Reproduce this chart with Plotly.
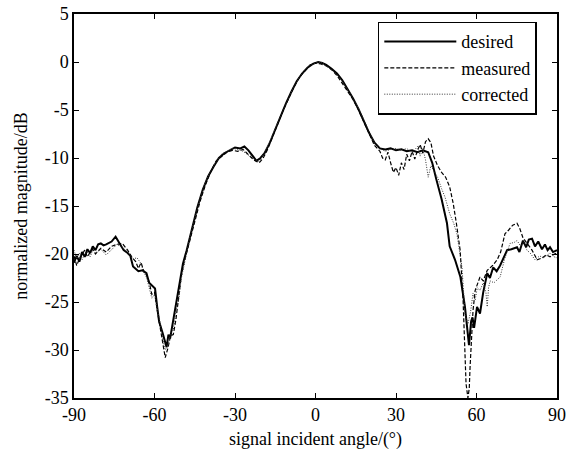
import plotly.graph_objects as go

# ---- data ----
desired_x = [-90, -89, -88, -87, -86, -85, -84, -83, -82, -81, -80, -79, -78, -76, -74.5, -73, -71.5, -70, -69, -68,
             -67, -66, -64.5, -63, -62, -61, -59.8, -59.0, -58.3, -57, -55.5, -54.8, -54.2, -53.5, -52, -50.5, -49.4,
             -48, -46, -44, -42, -40, -38, -36, -34, -32, -30, -28, -26.5, -25, -23.5, -22, -20.5, -19, -17, -15,
             -13, -11, -9, -7, -5, -3, -1, 1, 2.5, 4, 6, 8, 10, 12, 14, 16, 18, 20, 22, 24, 26, 28, 30, 32, 34, 36,
             38, 40, 42, 43.5, 45, 47, 49, 50, 52, 54, 55.7, 56.5, 57.2, 58.0, 58.5, 59.1, 60.2, 61.3, 62.5, 64, 65,
             66.2, 67.5, 68.8, 70, 71.4, 73, 75.1, 76, 77.3, 78.5, 79.5, 80.7, 81.8, 83, 84.4, 85.5, 86.5, 87.4,
             88.5, 90]
desired_y = [-20.9, -20.2, -20.8, -19.8, -20.3, -19.5, -19.9, -19.2, -19.6, -19.0, -18.9, -19.1, -19.0, -18.7, -18.2,
             -18.9, -19.6, -19.9, -20.2, -21.3, -21.6, -21.8, -21.7, -22.0, -23.0, -23.3, -23.6, -25.5, -27.0, -28.2,
             -29.7, -28.4, -28.8, -27.7, -25.3, -22.8, -21.0, -19.6, -17.4, -15.1, -13.3, -11.9, -10.9, -10.0, -9.5,
             -9.2, -8.9, -9.0, -8.8, -9.2, -9.8, -10.3, -10.0, -9.5, -8.4, -7.0, -5.5, -4.3, -3.1, -2.0, -1.2, -0.6,
             -0.2, 0.0, -0.1, -0.3, -0.7, -1.2, -1.9, -2.8, -3.8, -4.9, -6.1, -7.4, -8.4, -9.0, -9.1, -9.0, -9.2,
             -9.1, -9.3, -9.2, -9.4, -9.2, -9.4, -10.5, -12.2, -14.3, -16.8, -19.2, -20.6, -22.4, -25.5, -27.5,
             -29.5, -27.0, -26.6, -27.7, -25.5, -26.2, -24.0, -22.0, -22.5, -21.4, -21.8, -21.2, -20.5, -19.6, -19.5,
             -19.3, -19.8, -18.6, -19.3, -18.5, -18.4, -19.2, -18.7, -19.5, -19.0, -19.6, -19.3, -19.8, -19.6]

measured_x = [-90, -89, -88, -87, -86, -85, -84, -83, -82, -81, -80, -78, -76, -74, -72, -70, -68.5, -67, -66, -65,
              -64, -63, -62, -61, -60, -59, -58, -57, -56, -55, -54, -53, -52, -51, -50, -49, -47, -45, -43, -41,
              -39, -37, -35, -33, -31, -29, -27, -25, -23, -21, -19.5, -18, -16, -14, -12, -10, -8, -6, -4, -2, 0,
              2, 4, 6, 8, 10, 12, 14, 16, 18, 20, 22, 24, 25, 26, 27, 28, 29, 30, 31, 32, 33, 34, 35, 36, 37, 38,
              39, 40, 41, 42, 43, 44, 45.5, 47, 48.5, 50, 51.3, 52.5, 53.9, 55, 55.6, 56.1, 56.8, 57.3, 57.6, 58.2,
              58.7, 59.5, 60.5, 61.3, 62.5, 64, 66, 67.7, 69, 70.6, 72, 73.5, 75.1, 76.2, 77.3, 79, 80.7, 82.6,
              84.5, 86, 87.4, 89, 90]
measured_y = [-20.2, -21.2, -20.5, -20.0, -19.6, -20.3, -19.8, -19.5, -20.0, -19.7, -19.4, -19.8, -19.2, -19.0, -18.9,
              -19.6, -20.3, -20.8, -21.5, -20.9, -21.8, -22.2, -22.9, -24.2, -24.0, -25.8, -27.5, -29.0, -30.8, -29.8,
              -28.5, -28.4, -26.8, -24.5, -22.3, -20.9, -18.8, -16.6, -14.5, -12.8, -11.4, -10.3, -9.8, -9.4, -9.2,
              -9.3, -9.1, -9.6, -10.2, -10.5, -10.0, -9.2, -7.8, -6.3, -5.0, -3.8, -2.6, -1.6, -0.9, -0.3, -0.1,
              -0.2, -0.4, -0.8, -1.4, -2.2, -3.0, -3.9, -5.0, -6.3, -7.6, -8.7, -9.3, -10.0, -10.2, -9.4, -10.5,
              -11.5, -11.0, -11.8, -10.5, -11.2, -9.6, -10.3, -9.3, -10.1, -9.2, -8.6, -9.5, -8.3, -8.0, -8.4, -9.8,
              -10.8, -11.5, -12.0, -13.0, -14.7, -16.8, -19.6, -24.8, -29.0, -33.5, -35.0, -34.0, -31.8, -28.0,
              -25.9, -23.8, -23.0, -22.4, -22.8, -21.7, -21.2, -20.6, -19.8, -17.9, -17.5, -17.0, -16.8, -17.4,
              -18.3, -19.0, -19.6, -20.6, -20.4, -20.1, -20.3, -20.0, -19.9]

corrected_x = [-90, -89, -88, -87, -86, -85, -84, -83, -82, -80, -78, -76, -74, -72, -70, -68, -66.5, -65, -64, -63,
               -62, -61, -60, -59, -58, -57, -56, -55, -54, -53, -52, -51, -50, -49, -47, -45, -43, -41, -39, -37,
               -35, -33, -31, -29, -27, -25, -23, -21, -19.5, -18, -16, -14, -12, -10, -8, -6, -4, -2, 0, 2, 4, 6,
               8, 10, 12, 14, 16, 18, 20, 22, 24, 26, 28, 30, 32, 34, 36, 38, 39, 40, 41, 42, 43, 44, 45.5, 47, 48.3,
               50, 51.5, 52.7, 53.8, 54.6, 55.7, 56.8, 57.8, 58.7, 59.5, 60.3, 61.3, 62.5, 63.5, 64, 64.5, 65.1,
               66.5, 68.8, 70.5, 72.5, 74, 75.1, 76.5, 77.5, 78.8, 80, 81.8, 83.5, 85, 87.4, 89, 90]
corrected_y = [-19.6, -20.5, -19.9, -20.6, -20.0, -19.8, -20.3, -19.6, -19.9, -19.5, -20.1, -19.5, -19.0, -19.3,
               -19.8, -20.5, -20.4, -21.0, -21.9, -22.4, -23.5, -24.6, -24.2, -25.6, -27.0, -28.8, -30.0, -29.6,
               -28.2, -27.9, -26.0, -24.8, -22.5, -21.2, -18.5, -16.3, -14.2, -12.5, -11.3, -10.4, -9.6, -9.3, -9.0,
               -9.1, -9.3, -9.7, -10.1, -10.4, -9.7, -8.9, -7.6, -6.2, -4.9, -3.7, -2.5, -1.6, -0.8, -0.3, -0.1,
               0.0, -0.4, -0.8, -1.3, -2.0, -2.9, -3.8, -4.8, -6.0, -7.3, -8.5, -9.0, -9.3, -9.1, -9.0, -9.2, -9.0,
               -9.5, -8.8, -9.8, -9.0, -10.2, -12.0, -10.8, -11.3, -12.0, -13.2, -14.1, -15.8, -16.8, -17.9, -19.8,
               -21.4, -26.2, -27.3, -26.0, -24.1, -24.8, -23.5, -23.8, -23.0, -24.0, -25.5, -23.5, -22.8, -23.0,
               -22.4, -20.5, -18.9, -18.8, -18.6, -19.2, -18.8, -19.6, -19.9, -20.6, -20.2, -20.4, -19.9, -20.3,
               -20.4]

x_ticks = [-90, -60, -30, 0, 30, 60, 90]
y_ticks = [-35, -30, -25, -20, -15, -10, -5, 0, 5]

FONT = "Liberation Serif, Times New Roman, serif"
FS = 18

fig = go.Figure()
fig.add_trace(go.Scatter(x=desired_x, y=desired_y, mode="lines", name="desired",
                         line=dict(color="black", width=2)))
fig.add_trace(go.Scatter(x=measured_x, y=measured_y, mode="lines", name="measured",
                         line=dict(color="black", width=1.2, dash="4px,2px")))
fig.add_trace(go.Scatter(x=corrected_x, y=corrected_y, mode="lines", name="corrected",
                         line=dict(color="#333333", width=1, dash="1px,1.5px")))

axis_common = dict(showgrid=False, zeroline=False, showline=True, linecolor="black", linewidth=1.5,
                   mirror="ticks", ticks="inside", ticklen=5, tickwidth=1, tickcolor="black",
                   automargin=False,
                   tickfont=dict(family=FONT, size=FS, color="black"))

fig.update_layout(
    width=573, height=453,
    margin=dict(l=74, r=16, t=14, b=55),
    paper_bgcolor="white", plot_bgcolor="white",
    font=dict(family=FONT, size=FS, color="black"),
    xaxis=dict(range=[-90, 90], tickvals=x_ticks, ticktext=[str(v) for v in x_ticks],
               title=dict(text="signal incident angle/(°)", font=dict(family=FONT, size=FS), standoff=8),
               **axis_common),
    yaxis=dict(range=[-35, 5], tickvals=y_ticks, ticktext=[str(v) for v in y_ticks],
               title=dict(text="normalized magnitude/dB", font=dict(family=FONT, size=FS), standoff=12),
               **axis_common),
    legend=dict(x=0.629, y=0.98, xanchor="left", yanchor="top", bgcolor="white",
                bordercolor="black", borderwidth=1.5, itemwidth=72, entrywidth=160,
                font=dict(family=FONT, size=FS, color="black"), tracegroupgap=0),
    showlegend=True,
)

# remove the default 8px page margin so the figure fills the window exactly
fig.write_html("out.html",
               config={"displayModeBar": False},
               post_script="document.body.style.margin='0';document.body.style.overflow='hidden';")
